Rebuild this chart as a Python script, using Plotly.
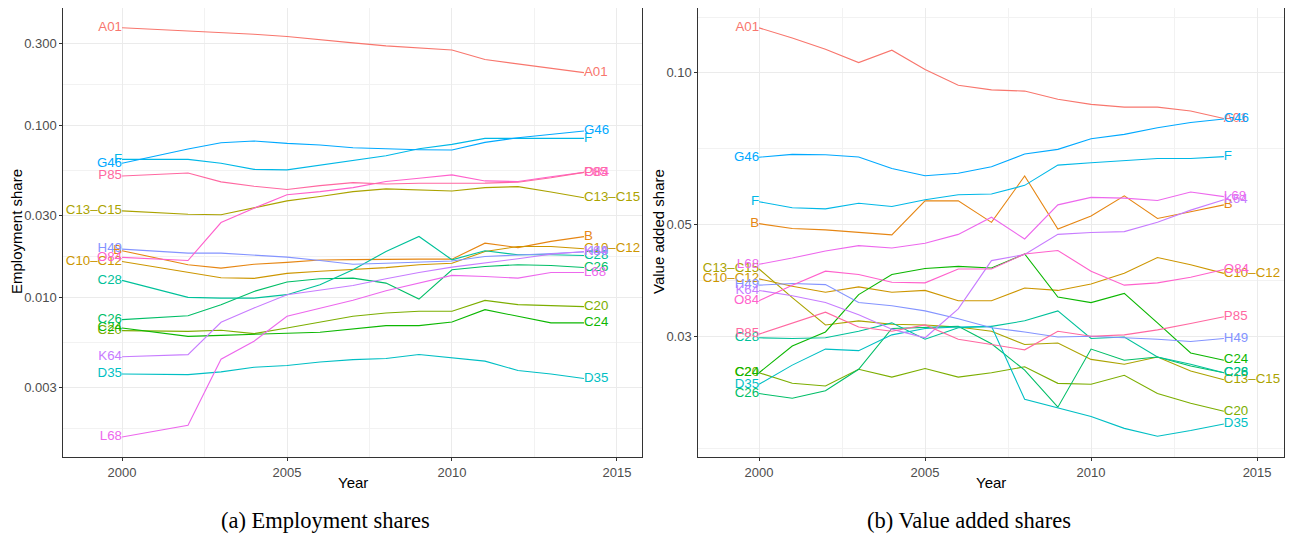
import plotly.graph_objects as go

# ---------------- categories ----------------
sectors = ["A01", "B", "C10–C12", "C13–C15", "C20", "C24", "C26", "C28",
           "D35", "F", "G46", "H49", "K64", "L68", "O84", "P85"]
colors = ["#F8766D", "#E68613", "#CD9600", "#ABA300", "#7CAE00", "#0CB702",
          "#00BE67", "#00C19A", "#00BFC4", "#00B8E7", "#00A9FF", "#8494FF",
          "#C77CFF", "#ED68ED", "#FF61CC", "#FF68A1"]

# ---------------- (a) employment shares ----------------
years_emp = [2000, 2002, 2003, 2004, 2005, 2006, 2007, 2008, 2009, 2010, 2011, 2012, 2013, 2014]
emp_A01 = [0.372, 0.356, 0.351, 0.341, 0.331, 0.316, 0.304, 0.292, 0.284, 0.276, 0.243, 0.230, 0.217, 0.204]
emp_B = [0.0187, 0.0155, 0.0148, 0.0156, 0.0160, 0.0165, 0.0166, 0.0167, 0.0167, 0.0167, 0.0207, 0.0195, 0.0212, 0.0226]
emp_C10_C12 = [0.0162, 0.0140, 0.0130, 0.0129, 0.0138, 0.0142, 0.0145, 0.0149, 0.0155, 0.0158, 0.0185, 0.0198, 0.0198, 0.0192]
emp_C13_C15 = [0.0319, 0.0305, 0.0303, 0.0331, 0.0365, 0.0387, 0.0413, 0.0429, 0.0423, 0.0417, 0.0436, 0.0442, 0.0411, 0.0381]
emp_C20 = [0.0064, 0.00634, 0.00643, 0.00615, 0.00663, 0.00718, 0.00776, 0.00811, 0.0083, 0.0083, 0.0096, 0.00907, 0.00899, 0.00883]
emp_C24 = [0.00663, 0.00593, 0.00601, 0.00612, 0.00618, 0.00626, 0.00658, 0.00685, 0.00685, 0.00718, 0.00848, 0.00776, 0.0071, 0.0071]
emp_C26 = [0.00742, 0.00782, 0.00907, 0.01083, 0.01228, 0.01285, 0.01295, 0.01211, 0.00977, 0.01449, 0.01514, 0.0155, 0.01535, 0.01494]
emp_C28 = [0.01256, 0.0100, 0.0099, 0.0099, 0.01037, 0.01186, 0.01449, 0.0185, 0.02264, 0.01656, 0.0187, 0.0177, 0.0177, 0.01755]
emp_D35 = [0.00358, 0.00355, 0.00368, 0.00392, 0.00401, 0.0042, 0.00434, 0.0044, 0.00465, 0.00446, 0.00425, 0.00375, 0.00358, 0.00337]
emp_F = [0.0637, 0.0637, 0.0604, 0.0557, 0.0553, 0.0591, 0.0632, 0.0669, 0.0735, 0.0779, 0.0844, 0.0846, 0.0846, 0.0844]
emp_G46 = [0.0604, 0.0732, 0.0796, 0.0815, 0.0789, 0.0772, 0.0745, 0.0732, 0.0725, 0.0722, 0.0800, 0.0851, 0.0893, 0.0931]
emp_H49 = [0.0191, 0.0181, 0.0181, 0.0177, 0.01715, 0.0164, 0.0156, 0.0158, 0.0160, 0.0163, 0.0173, 0.0177, 0.0180, 0.0184]
emp_K64 = [0.00451, 0.00464, 0.00716, 0.00867, 0.01037, 0.01109, 0.01174, 0.01285, 0.01397, 0.01501, 0.01584, 0.01679, 0.01786, 0.0185]
emp_L68 = [0.001535, 0.0018, 0.00436, 0.00555, 0.00776, 0.00867, 0.00961, 0.01094, 0.0121, 0.01343, 0.01324, 0.01295, 0.01397, 0.01397]
emp_O84 = [0.0171, 0.0164, 0.0273, 0.0331, 0.0396, 0.0413, 0.0436, 0.0473, 0.0494, 0.0517, 0.0477, 0.0473, 0.0505, 0.0535]
emp_P85 = [0.0510, 0.0531, 0.0471, 0.0444, 0.0425, 0.0448, 0.0466, 0.0458, 0.0462, 0.0462, 0.0463, 0.0469, 0.0498, 0.0535]

# ---------------- (b) value added shares ----------------
years_va = [2000, 2001, 2002, 2003, 2004, 2005, 2006, 2007, 2008, 2009, 2010, 2011, 2012, 2013, 2014]
va_A01 = [0.1228, 0.1173, 0.1114, 0.1048, 0.1109, 0.1015, 0.0945, 0.0925, 0.0920, 0.0886, 0.0866, 0.0855, 0.0855, 0.0840, 0.0812]
va_B = [0.0502, 0.0491, 0.0488, 0.0482, 0.0477, 0.0557, 0.0557, 0.0505, 0.0624, 0.0490, 0.0520, 0.0570, 0.0514, 0.0530, 0.0547]
va_C10_C12 = [0.0390, 0.0377, 0.0367, 0.0376, 0.0367, 0.0370, 0.0353, 0.0353, 0.0374, 0.0370, 0.0381, 0.0400, 0.0430, 0.0416, 0.0400]
va_C13_C15 = [0.0408, 0.0358, 0.0316, 0.0322, 0.0317, 0.0316, 0.0313, 0.0307, 0.0289, 0.0291, 0.0270, 0.0264, 0.0273, 0.0256, 0.0246]
va_C20 = [0.0254, 0.0242, 0.0239, 0.0258, 0.0249, 0.0259, 0.0249, 0.0254, 0.0261, 0.0242, 0.0241, 0.0251, 0.0231, 0.0221, 0.0213]
va_C24 = [0.0254, 0.0287, 0.0306, 0.0363, 0.0398, 0.0409, 0.0413, 0.0410, 0.0437, 0.0359, 0.0350, 0.0365, 0.0319, 0.0278, 0.0269]
va_C26 = [0.0231, 0.0226, 0.0234, 0.0258, 0.0311, 0.0312, 0.0314, 0.0290, 0.0257, 0.0217, 0.0283, 0.0269, 0.0273, 0.0262, 0.0254]
va_C28 = [0.0298, 0.0297, 0.0298, 0.0307, 0.0319, 0.0296, 0.0312, 0.0314, 0.0322, 0.0337, 0.0297, 0.0299, 0.0273, 0.0264, 0.0254]
va_D35 = [0.0241, 0.0263, 0.0283, 0.0281, 0.0302, 0.0311, 0.0313, 0.0314, 0.0225, 0.0216, 0.0208, 0.0197, 0.0190, 0.0195, 0.0201]
va_F = [0.0555, 0.0540, 0.0537, 0.0551, 0.0543, 0.0560, 0.0573, 0.0575, 0.0598, 0.0656, 0.0663, 0.0670, 0.0676, 0.0676, 0.0682]
va_G46 = [0.0680, 0.0689, 0.0688, 0.0681, 0.0646, 0.0625, 0.0632, 0.0651, 0.0690, 0.0705, 0.0740, 0.0755, 0.0778, 0.0797, 0.0810]
va_H49 = [0.0379, 0.0382, 0.0380, 0.0350, 0.0345, 0.0337, 0.0325, 0.0312, 0.0306, 0.0299, 0.0300, 0.0298, 0.0296, 0.0293, 0.0297]
va_K64 = [0.0370, 0.0361, 0.0350, 0.0331, 0.0310, 0.0298, 0.0340, 0.0424, 0.0436, 0.0478, 0.0482, 0.0484, 0.0505, 0.0534, 0.0560]
va_L68 = [0.0417, 0.0429, 0.0443, 0.0454, 0.0449, 0.0459, 0.0478, 0.0517, 0.0468, 0.0547, 0.0566, 0.0564, 0.0558, 0.0580, 0.0568]
va_O84 = [0.0353, 0.0379, 0.0404, 0.0398, 0.0384, 0.0383, 0.0408, 0.0408, 0.0437, 0.0444, 0.0404, 0.0379, 0.0383, 0.0393, 0.0407]
va_P85 = [0.0303, 0.0319, 0.0335, 0.0313, 0.0307, 0.0316, 0.0296, 0.0289, 0.0282, 0.0307, 0.0300, 0.0302, 0.0309, 0.0318, 0.0328]

# ---------------- tick labels ----------------
x_ticks = [2000, 2005, 2010, 2015]
emp_ticks = [0.003, 0.010, 0.030, 0.100, 0.300]
emp_ticktext = ["0.003", "0.010", "0.030", "0.100", "0.300"]
va_ticks = [0.03, 0.05, 0.10]
va_ticktext = ["0.03", "0.05", "0.10"]

emp_series = [emp_A01, emp_B, emp_C10_C12, emp_C13_C15, emp_C20, emp_C24, emp_C26, emp_C28,
              emp_D35, emp_F, emp_G46, emp_H49, emp_K64, emp_L68, emp_O84, emp_P85]
va_series = [va_A01, va_B, va_C10_C12, va_C13_C15, va_C20, va_C24, va_C26, va_C28,
             va_D35, va_F, va_G46, va_H49, va_K64, va_L68, va_O84, va_P85]

W, H = 1293, 533
OFFX, OFFY = 8, 7  # the page draws the figure a few px in from its corner


def px(X):
    return min(1.0, max(0.0, (X - OFFX) / W))


def py(Y):
    return min(1.0, max(0.0, 1 - (Y - OFFY) / H))


LBL = dict(family="Liberation Sans", size=13.3)

fig = go.Figure()


def add_panel(years, series, xa, ya):
    for name, col, vals in zip(sectors, colors, series):
        fig.add_trace(go.Scatter(x=years, y=vals, mode="lines", name=name,
                                 line=dict(color=col, width=1.1), xaxis=xa, yaxis=ya,
                                 hoverinfo="name+x+y"))
    fig.add_trace(go.Scatter(x=[years[0]] * len(series), y=[s[0] for s in series],
                             mode="text", text=sectors, textposition="middle left",
                             textfont=dict(LBL, color=colors), xaxis=xa, yaxis=ya,
                             hoverinfo="skip"))
    fig.add_trace(go.Scatter(x=[years[-1]] * len(series), y=[s[-1] for s in series],
                             mode="text", text=sectors, textposition="middle right",
                             textfont=dict(LBL, color=colors), xaxis=xa, yaxis=ya,
                             hoverinfo="skip"))


add_panel(years_emp, emp_series, "x", "y")
add_panel(years_va, va_series, "x2", "y2")

ydom = [py(456), py(7)]
axis_common = dict(showgrid=True, gridcolor="#EBEBEB", gridwidth=1, zeroline=False,
                   showline=True, mirror=True, linecolor="#333333", linewidth=1,
                   ticks="outside", ticklen=3, tickcolor="#333333")
tickf = dict(size=13, color="#4D4D4D", family="Liberation Sans")

fig.update_layout(
    width=W, height=H, margin=dict(l=0, r=0, t=0, b=0),
    plot_bgcolor="white", paper_bgcolor="white", showlegend=False,
    font=dict(family="Liberation Sans", color="#4D4D4D"),
    xaxis=dict(axis_common, domain=[px(63.3), px(641.7)], range=[1998.22, 2015.75],
               tickvals=x_ticks, tickfont=tickf, anchor="y",
               minor=dict(tickvals=[2002.5, 2007.5, 2012.5], showgrid=True,
                          gridcolor="#F2F2F2", gridwidth=1)),
    yaxis=dict(axis_common, type="log", domain=ydom, range=[-2.930, -0.314],
               tickvals=emp_ticks, ticktext=emp_ticktext, tickfont=tickf, anchor="x",
               minor=dict(tickvals=[0.00173, 0.00548, 0.0173, 0.0548, 0.173], showgrid=True,
                          gridcolor="#F2F2F2", gridwidth=1)),
    xaxis2=dict(axis_common, domain=[px(698.3), px(1284.3)], range=[1998.17, 2015.82],
                tickvals=x_ticks, tickfont=tickf, anchor="y2",
                minor=dict(tickvals=[2002.5, 2007.5, 2012.5], showgrid=True,
                           gridcolor="#F2F2F2", gridwidth=1)),
    yaxis2=dict(axis_common, type="log", domain=ydom, range=[-1.7624, -0.8713],
                tickvals=va_ticks, ticktext=va_ticktext, tickfont=tickf, anchor="x2",
                minor=dict(tickvals=[0.018, 0.0387, 0.0707, 0.129], showgrid=True,
                           gridcolor="#F2F2F2", gridwidth=1)),
)

ann = dict(xref="paper", yref="paper", showarrow=False)
title_font = dict(family="Liberation Sans", size=15, color="black")
cap_font = dict(family="Liberation Serif", size=22.5, color="black")
fig.add_annotation(ann, x=px(16), y=py(231), text="Employment share", textangle=-90,
                   font=title_font, xanchor="center", yanchor="middle")
fig.add_annotation(ann, x=px(658), y=py(231), text="Value added share", textangle=-90,
                   font=title_font, xanchor="center", yanchor="middle")
fig.add_annotation(ann, x=px(352.5), y=py(481), text="Year", font=title_font,
                   xanchor="center", yanchor="middle")
fig.add_annotation(ann, x=px(991), y=py(481), text="Year", font=title_font,
                   xanchor="center", yanchor="middle")
fig.add_annotation(ann, x=px(325.5), y=py(519), text="(a) Employment shares", font=cap_font,
                   xanchor="center", yanchor="middle")
fig.add_annotation(ann, x=px(969), y=py(519), text="(b) Value added shares", font=cap_font,
                   xanchor="center", yanchor="middle")

fig.write_html("out.html")
